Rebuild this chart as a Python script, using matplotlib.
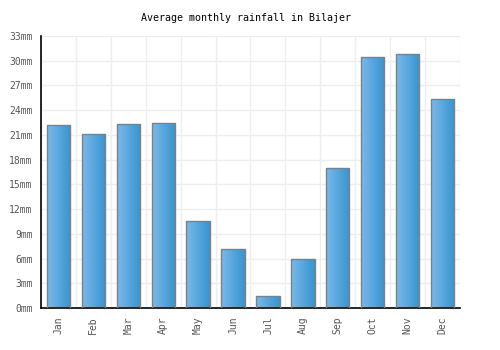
import matplotlib
matplotlib.use("Agg")
import matplotlib.pyplot as plt
import numpy as np
from matplotlib.colors import LinearSegmentedColormap

months = ["Jan", "Feb", "Mar", "Apr", "May", "Jun", "Jul", "Aug", "Sep", "Oct", "Nov", "Dec"]
rainfall = [22.2, 21.1, 22.3, 22.4, 10.6, 7.1, 1.5, 6.0, 17.0, 30.5, 30.8, 25.4]
yticks = [0, 3, 6, 9, 12, 15, 18, 21, 24, 27, 30, 33]
ytick_labels = [f"{v}mm" for v in yticks]

plt.rcParams['font.family'] = ['DejaVu Sans Mono']

fig = plt.figure(figsize=(5, 3.5), dpi=100)
ax = fig.add_axes([0.082, 0.12, 0.838, 0.777])

x = np.arange(len(months))
bars = ax.bar(x, rainfall, width=0.67, facecolor='none', edgecolor='#808080', linewidth=1.0, zorder=3)

cmap = LinearSegmentedColormap.from_list("g", ["#7ab9ea", "#3794cf"])
grad = np.linspace(0, 1, 64).reshape(1, -1)
for b in bars:
    x0, y0 = b.get_x(), b.get_y()
    w, h = b.get_width(), b.get_height()
    im = ax.imshow(grad, cmap=cmap, aspect='auto', extent=[x0, x0 + w, y0, y0 + h], zorder=2, interpolation='bilinear')
    im.set_clip_path(b)

ax.set_xlim(-0.5, len(months) - 0.5)
ax.set_ylim(0, 33)
ax.set_yticks(yticks)
ax.set_yticklabels(ytick_labels)
ax.set_xticks(x)
ax.set_xticklabels(months, rotation=90)
ax.set_xticks(np.arange(-0.5, len(months), 1), minor=True)
ax.grid(True, which='minor', axis='x', color='#eeeeee', linewidth=1, zorder=0)
ax.grid(True, which='major', axis='y', color='#eeeeee', linewidth=1, zorder=0)
ax.tick_params(axis='both', which='both', length=0, labelsize=7, labelcolor='#555555')
ax.tick_params(axis='x', pad=6)
ax.tick_params(axis='y', pad=6)
for s in ['top', 'right']:
    ax.spines[s].set_visible(False)
for s in ['left', 'bottom']:
    ax.spines[s].set_color('black')
    ax.spines[s].set_linewidth(1.2)

fig.text(0.492, 0.948, "Average monthly rainfall in Bilajer", ha='center', va='center', fontsize=7.2, color='black')

fig.savefig("out.png", dpi=100, facecolor='white')
